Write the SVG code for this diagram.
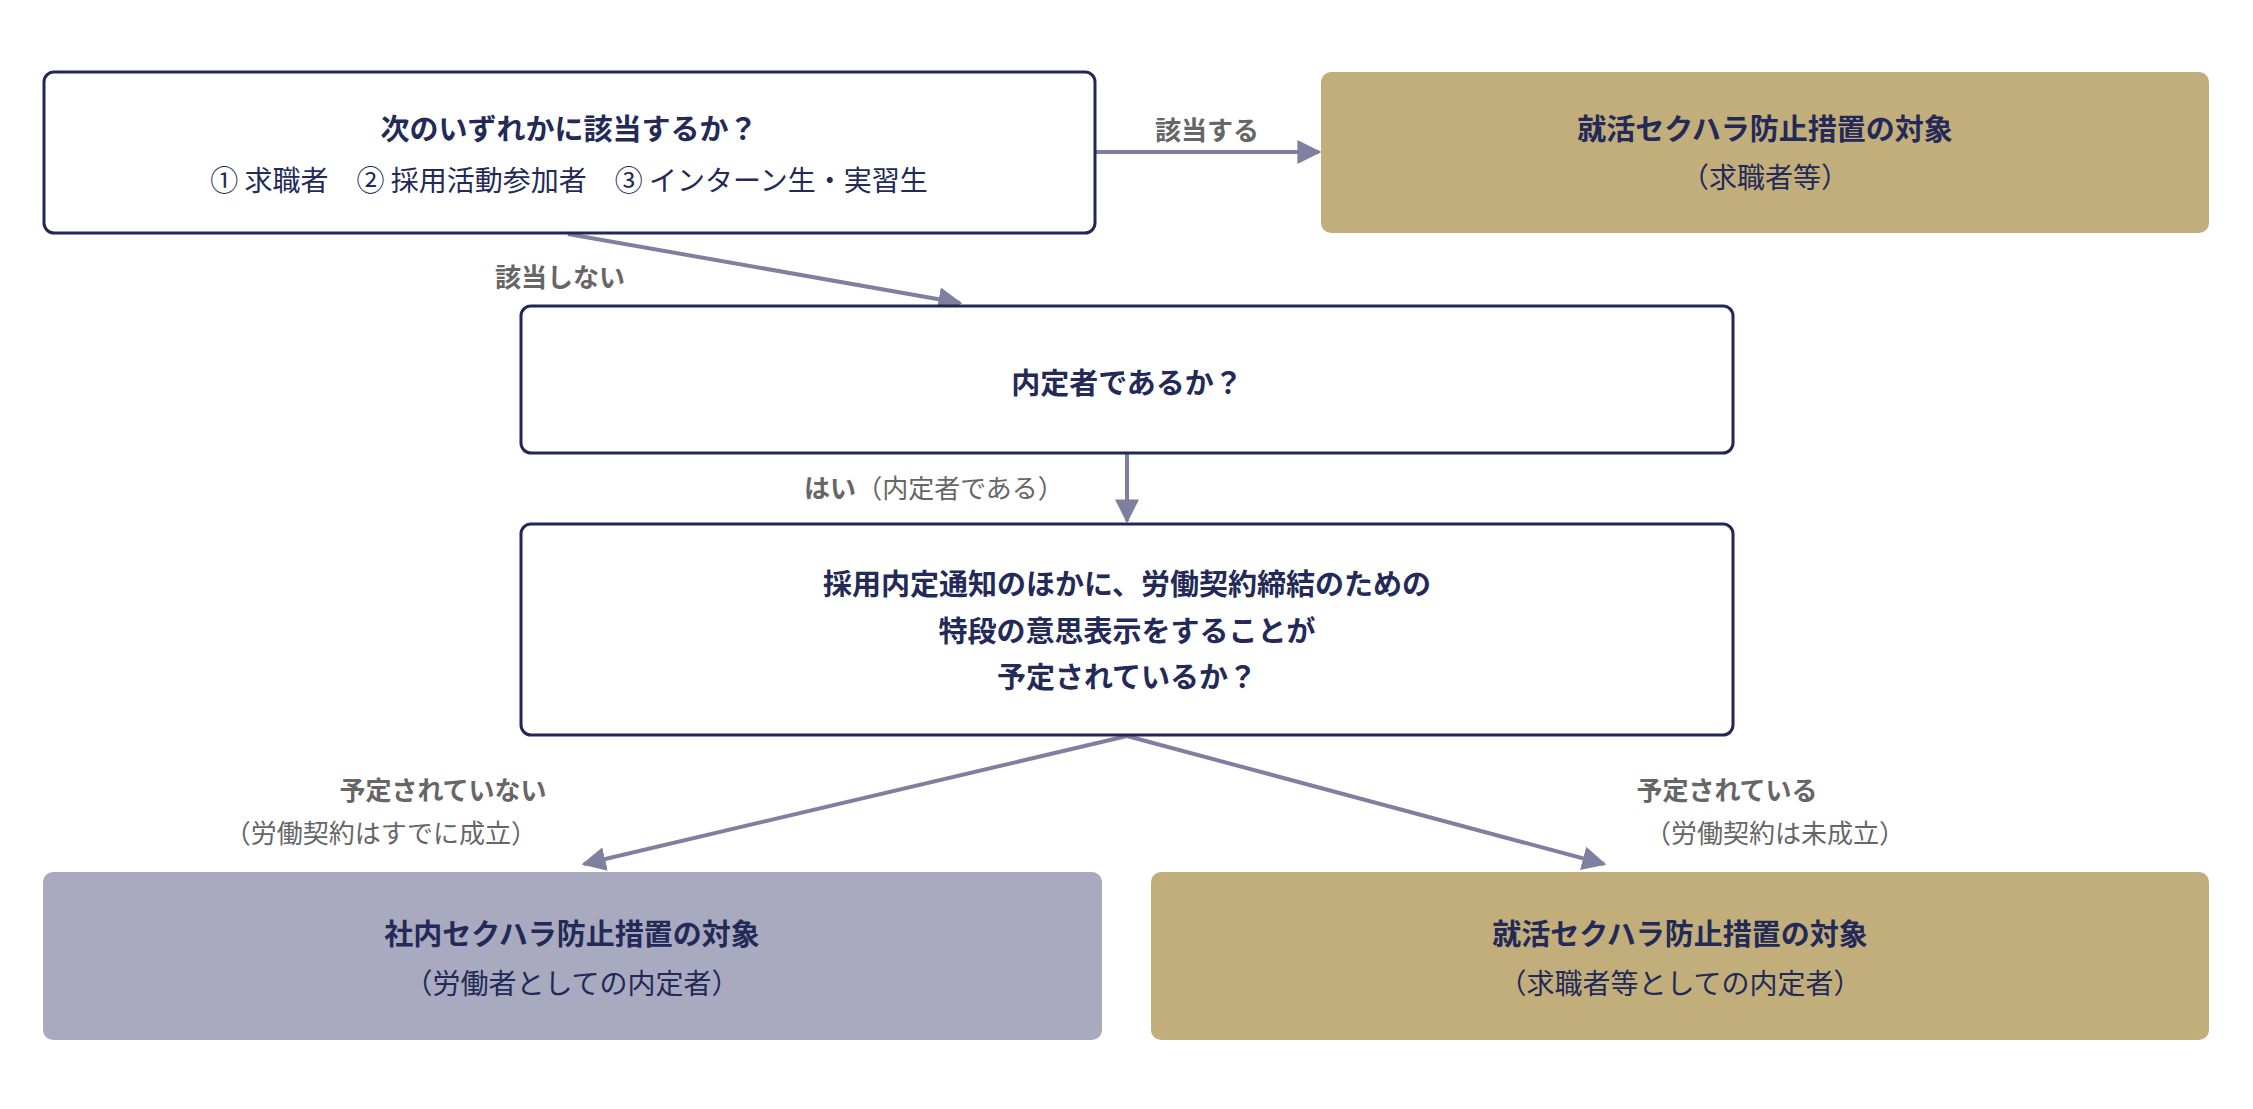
<svg xmlns="http://www.w3.org/2000/svg" width="2253" height="1109" viewBox="0 0 2253 1109">
<style>
text{font-family:"Noto Sans CJK JP","Noto Sans",sans-serif;text-anchor:middle;dominant-baseline:central}
.q{fill:#fff;stroke:#222755;stroke-width:3}
.t{font-size:29px;font-weight:700;fill:#232a58}
.s{font-size:28px;fill:#232a58}
.l{font-size:26px;font-weight:700;fill:#666}
.ln{font-size:26px;fill:#666}
.c{stroke:#7f7fa0;stroke-width:4;fill:none;marker-end:url(#a)}
</style>
<defs><marker id="a" viewBox="0 0 10 10" refX="9" refY="5" markerWidth="6" markerHeight="6" orient="auto" markerUnits="strokeWidth"><path d="M0,0L10,5L0,10z" fill="#7f7fa0"/></marker></defs>
<rect width="2253" height="1109" fill="#fff"/>
<g id="connectors">
<line class="c" x1="1095" y1="152" x2="1319" y2="152"/>
<line class="c" x1="568" y1="234" x2="960" y2="303"/>
<line class="c" x1="1127" y1="453" x2="1127" y2="521"/>
<line class="c" x1="1127" y1="736" x2="584" y2="864"/>
<line class="c" x1="1127" y1="736" x2="1604" y2="864"/>
<text class="l" x="1207" y="128">該当する</text>
<text class="l" x="560" y="275">該当しない</text>
<text x="934" y="486" style="font-size:26px"><tspan font-weight="700" fill="#666">はい</tspan><tspan fill="#666">（内定者である）</tspan></text>
<text class="l" x="443" y="788">予定されていない</text>
<text class="ln" x="381" y="831">（労働契約はすでに成立）</text>
<text class="l" x="1727" y="788">予定されている</text>
<text class="ln" x="1775" y="831">（労働契約は未成立）</text>
</g>
<g id="n1"><rect class="q" x="44" y="72" width="1051" height="161" rx="10"/>
<text class="t" x="569" y="127">次のいずれかに該当するか？</text>
<text class="s" x="569" y="179">① 求職者　② 採用活動参加者　③ インターン生・実習生</text></g>
<g id="n2"><rect x="1321" y="72" width="888" height="161" rx="10" fill="#c2ae7b"/>
<text class="t" x="1765" y="127">就活セクハラ防止措置の対象</text>
<text class="s" x="1765" y="176">（求職者等）</text></g>
<g id="n3"><rect class="q" x="521" y="306" width="1212" height="147" rx="10"/>
<text class="t" x="1127" y="381">内定者であるか？</text></g>
<g id="n4"><rect class="q" x="521" y="524" width="1212" height="211" rx="10"/>
<text class="t" x="1127" y="582">採用内定通知のほかに、労働契約締結のための</text>
<text class="t" x="1127" y="629">特段の意思表示をすることが</text>
<text class="t" x="1127" y="675">予定されているか？</text></g>
<g id="n5"><rect x="43" y="872" width="1059" height="168" rx="10" fill="#a9a9c0"/>
<text class="t" x="572" y="932">社内セクハラ防止措置の対象</text>
<text class="s" x="572" y="982">（労働者としての内定者）</text></g>
<g id="n6"><rect x="1151" y="872" width="1058" height="168" rx="10" fill="#c2ae7b"/>
<text class="t" x="1680" y="932">就活セクハラ防止措置の対象</text>
<text class="s" x="1680" y="982">（求職者等としての内定者）</text></g>
</svg>
